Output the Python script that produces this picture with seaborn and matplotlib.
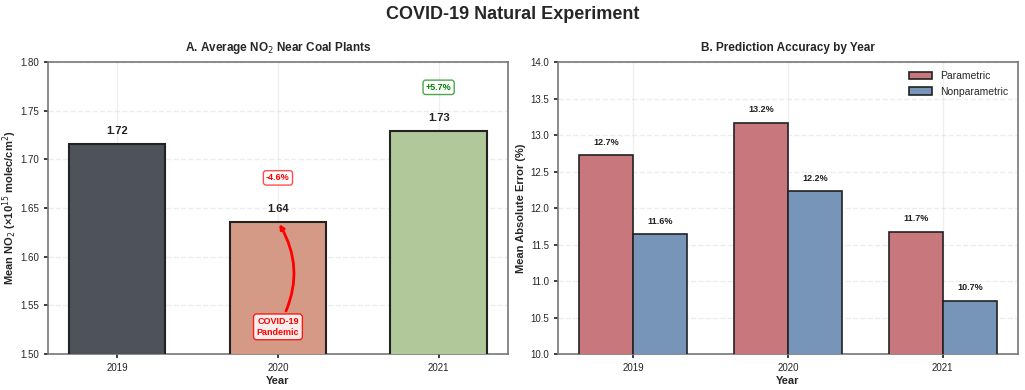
import pandas as pd
import seaborn as sns
import matplotlib
matplotlib.use("Agg")
import matplotlib.pyplot as plt

# Data
years = ["2019", "2020", "2021"]
no2_mean = [1.7156, 1.636, 1.729]
no2_colors = ["#4d525b", "#d59a86", "#b0c89a"]

models = ["Parametric", "Nonparametric"]
mae_param = [12.72, 13.17, 11.67]
mae_nonparam = [11.64, 12.23, 10.73]
model_colors = ["#c8777c", "#7695b9"]

sns.set_theme(style="ticks")
plt.rcParams["font.family"] = ["Liberation Sans", "DejaVu Sans"]

fig, (ax1, ax2) = plt.subplots(1, 2, figsize=(10.25, 3.9), dpi=100)
fig.subplots_adjust(left=0.047, right=0.993, bottom=0.092, top=0.841, wspace=0.11)

# Panel A
df_no2 = pd.DataFrame({"Year": years, "NO2": no2_mean})
sns.barplot(data=df_no2, x="Year", y="NO2", hue="Year", palette=no2_colors,
            saturation=1, width=0.6, edgecolor="#222222", linewidth=1.5,
            legend=False, ax=ax1, zorder=3)
ax1.set_ylim(1.50, 1.80)
ax1.set_xlim(-0.43, 2.43)
for i, v in enumerate(no2_mean):
    ax1.text(i, v + 0.008, f"{v:.2f}", ha="center", va="bottom",
             fontsize=8, fontweight="bold", color="#222222")
for i in range(1, len(no2_mean)):
    pct = (no2_mean[i] - no2_mean[i - 1]) / no2_mean[i - 1] * 100
    col = "red" if pct < 0 else "green"
    ax1.text(i, no2_mean[i] + 0.045, f"{pct:+.1f}%", ha="center", va="center",
             fontsize=6.5, fontweight="bold", color=col,
             bbox=dict(boxstyle="round,pad=0.3", fc="white", ec=col, alpha=0.7, lw=1))
ax1.annotate("COVID-19\nPandemic", xy=(1, no2_mean[1]), xytext=(1, 1.528),
             ha="center", va="center", fontsize=6.5, fontweight="bold", color="red",
             bbox=dict(boxstyle="round,pad=0.35", fc="white", ec="red", alpha=0.85, lw=1),
             arrowprops=dict(arrowstyle="->", color="red", lw=2,
                             connectionstyle="arc3,rad=0.3"),
             zorder=5)
ax1.set_title("A. Average NO$_2$ Near Coal Plants", fontsize=8.5, fontweight="bold", pad=8)
ax1.set_xlabel("Year", fontsize=8, fontweight="bold", labelpad=2)
ax1.set_ylabel("Mean NO$_2$ (×10$^{15}$ molec/cm$^2$)", fontsize=8, fontweight="bold",
               labelpad=1)

# Panel B
df_mae = pd.DataFrame({
    "Year": years * 2,
    "MAE": mae_param + mae_nonparam,
    "Model": [models[0]] * 3 + [models[1]] * 3,
})
sns.barplot(data=df_mae, x="Year", y="MAE", hue="Model", palette=model_colors,
            saturation=1, width=0.7, edgecolor="#222222", linewidth=1.2,
            ax=ax2, zorder=3)
ax2.set_ylim(10, 14)
ax2.set_xlim(-0.485, 2.485)
for i in range(3):
    ax2.text(i - 0.175, mae_param[i] + 0.12, f"{mae_param[i]:.1f}%", ha="center",
             va="bottom", fontsize=6.5, fontweight="bold", color="#222222")
    ax2.text(i + 0.175, mae_nonparam[i] + 0.12, f"{mae_nonparam[i]:.1f}%", ha="center",
             va="bottom", fontsize=6.5, fontweight="bold", color="#222222")
ax2.legend(loc="upper right", fontsize=7.5, frameon=False, handlelength=2.2)
ax2.set_title("B. Prediction Accuracy by Year", fontsize=8.5, fontweight="bold", pad=8)
ax2.set_xlabel("Year", fontsize=8, fontweight="bold", labelpad=2)
ax2.set_ylabel("Mean Absolute Error (%)", fontsize=8, fontweight="bold", labelpad=3)

for ax in (ax1, ax2):
    ax.tick_params(labelsize=7, length=3)
    ax.grid(axis="y", linestyle="--", alpha=0.35, zorder=0)
    ax.grid(axis="x", linestyle="-", alpha=0.3, zorder=0)
    for s in ax.spines.values():
        s.set_visible(True)
        s.set_color("#777777")
        s.set_linewidth(1.2)

fig.suptitle("COVID-19 Natural Experiment", fontsize=13, fontweight="bold", y=0.985)
fig.savefig("out.png", dpi=100)
